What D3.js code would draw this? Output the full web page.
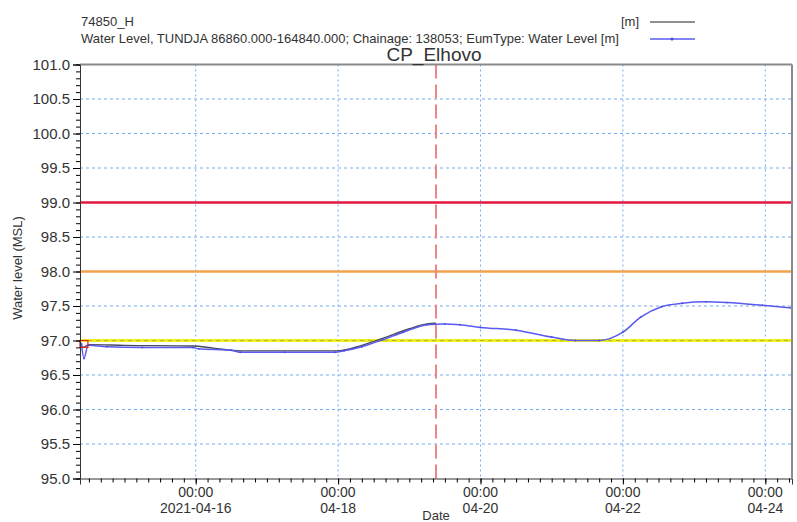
<!doctype html>
<html>
<head>
<meta charset="utf-8">
<style>
  body { margin: 0; background: #fff; }
  svg text { font-family: "Liberation Sans", Arial, sans-serif; fill: #333; }
</style>
</head>
<body>
<div id="vis"></div>
<script src="https://d3js.org/d3.v7.min.js"></script>
<script>
// observed water level (74850_H)
var obsTimes = ["2021-04-14 09:00", "2021-04-14 10:00", "2021-04-14 12:00", "2021-04-15 00:00", "2021-04-15 23:00",
    "2021-04-16 06:00", "2021-04-16 15:00", "2021-04-17 12:00", "2021-04-18 00:00", "2021-04-18 08:00",
    "2021-04-18 15:00", "2021-04-19 00:00", "2021-04-19 06:00", "2021-04-19 09:00"];
var obsValues = [96.99, 96.90, 96.94, 96.93, 96.92, 96.89, 96.85, 96.85, 96.85, 96.93, 97.03, 97.17, 97.24, 97.25];

// simulated water level (TUNDJA chainage 138053)
var simTimes = ["2021-04-14 09:30", "2021-04-14 10:20", "2021-04-14 11:45", "2021-04-14 18:00", "2021-04-15 06:00",
    "2021-04-15 23:00", "2021-04-16 01:00", "2021-04-16 12:00", "2021-04-16 15:00", "2021-04-17 06:00",
    "2021-04-17 23:00", "2021-04-18 02:00", "2021-04-18 08:00", "2021-04-18 15:00", "2021-04-18 22:00",
    "2021-04-19 06:00", "2021-04-19 12:00", "2021-04-19 17:00", "2021-04-20 00:00", "2021-04-20 12:00",
    "2021-04-21 00:00", "2021-04-21 08:00", "2021-04-21 16:00", "2021-04-22 00:00", "2021-04-22 06:00",
    "2021-04-22 13:00", "2021-04-22 20:00", "2021-04-23 04:00", "2021-04-23 11:00", "2021-04-23 23:00",
    "2021-04-24 09:00"];
var simValues = [96.95, 96.74, 96.93, 96.91, 96.90, 96.90, 96.88, 96.86, 96.83, 96.83, 96.83, 96.85, 96.91, 97.01, 97.12,
    97.23, 97.24, 97.23, 97.19, 97.15, 97.05, 97.00, 97.00, 97.12, 97.34, 97.49, 97.54, 97.56, 97.55, 97.51, 97.47];

// threshold levels
var levels = [99.0, 98.0, 97.0];
var levelColors = ["#e3173d", "#f2a14e", "#eef01e"];

var timeDomain = ["2021-04-14 09:00", "2021-04-24 09:00"];
var forecastStart = "2021-04-19 09:00";
var xTickTimes = ["2021-04-16 00:00", "2021-04-18 00:00", "2021-04-20 00:00", "2021-04-22 00:00", "2021-04-24 00:00"];
var xTickDates = ["2021-04-16", "04-18", "04-20", "04-22", "04-24"];
var yTicks = [95.0, 95.5, 96.0, 96.5, 97.0, 97.5, 98.0, 98.5, 99.0, 99.5, 100.0, 100.5, 101.0];
var startBox = { t0: "2021-04-14 09:00", t1: "2021-04-14 11:40", v0: 97.0, v1: 96.9 };

var parse = d3.timeParse("%Y-%m-%d %H:%M");
var W = 797, H = 522;
var pL = 80, pR = 792, pT = 64.5, pB = 478.5;

var svg = d3.select("#vis").append("svg").attr("width", W).attr("height", H);

var x = d3.scaleTime().domain(timeDomain.map(parse)).range([pL, pR]);
var y = d3.scaleLinear().domain([95, 101]).range([pB, pT]);

// grid
var gridColor = "#72aaf0";
svg.append("g").selectAll("line").data(yTicks.filter(function(v){ return v > 95 && v < 101 && levels.indexOf(v) < 0; }))
  .enter().append("line")
  .attr("x1", pL).attr("x2", pR)
  .attr("y1", function(d){ return y(d); }).attr("y2", function(d){ return y(d); })
  .attr("stroke", gridColor).attr("stroke-width", 1).attr("stroke-dasharray", "3,3");
svg.append("g").selectAll("line").data(xTickTimes.map(parse))
  .enter().append("line")
  .attr("x1", function(d){ return x(d); }).attr("x2", function(d){ return x(d); })
  .attr("y1", pT).attr("y2", pB)
  .attr("stroke", gridColor).attr("stroke-width", 1).attr("stroke-dasharray", "2,3");

// threshold lines
svg.append("g").selectAll("line").data(levels)
  .enter().append("line")
  .attr("x1", pL).attr("x2", pR)
  .attr("y1", function(d){ return y(d); }).attr("y2", function(d){ return y(d); })
  .attr("stroke", function(d, i){ return levelColors[i]; })
  .attr("stroke-width", function(d, i){ return i == 2 ? 3 : 2.5; });
svg.append("line")
  .attr("x1", pL).attr("x2", pR).attr("y1", y(97)).attr("y2", y(97))
  .attr("stroke", "#b9b82a").attr("stroke-width", 1).attr("stroke-dasharray", "4,4");

// forecast start
svg.append("line")
  .attr("x1", x(parse(forecastStart))).attr("x2", x(parse(forecastStart)))
  .attr("y1", pT).attr("y2", pB)
  .attr("stroke", "#f08585").attr("stroke-width", 2).attr("stroke-dasharray", "14,6");

// series
var obs = obsTimes.map(function(t, i){ return { t: parse(t), v: obsValues[i] }; });
var sim = simTimes.map(function(t, i){ return { t: parse(t), v: simValues[i] }; });
var line = d3.line().curve(d3.curveMonotoneX).x(function(d){ return x(d.t); }).y(function(d){ return y(d.v); });

svg.append("path").datum(obs).attr("d", line)
  .attr("fill", "none").attr("stroke", "#4a4a5a").attr("stroke-width", 1.4);
svg.append("path").datum(sim).attr("d", line)
  .attr("fill", "none").attr("stroke", "#5a5af0").attr("stroke-width", 1.5);
svg.append("g").selectAll("circle").data(sim).enter().append("circle")
  .attr("cx", function(d){ return x(d.t); }).attr("cy", function(d){ return y(d.v); })
  .attr("r", 0.9).attr("fill", "#4a4ae0");

svg.append("rect")
  .attr("x", x(parse(startBox.t0))).attr("y", y(startBox.v0))
  .attr("width", x(parse(startBox.t1)) - x(parse(startBox.t0)))
  .attr("height", y(startBox.v1) - y(startBox.v0))
  .attr("fill", "none").attr("stroke", "#e02020").attr("stroke-width", 1.2);

// frame
svg.append("line").attr("x1", pL).attr("x2", pR).attr("y1", pT).attr("y2", pT)
  .attr("stroke", "#8a8a8a").attr("stroke-width", 2);
svg.append("line").attr("x1", pR).attr("x2", pR).attr("y1", pT).attr("y2", pB)
  .attr("stroke", "#8a8a8a").attr("stroke-width", 2);

// y axis
var yAxis = d3.axisLeft(y).tickValues(yTicks).tickFormat(d3.format(".1f")).tickSize(7).tickPadding(3);
var gy = svg.append("g").attr("transform", "translate(" + pL + ",0)").call(yAxis);
gy.select(".domain").attr("stroke", "#333");
gy.selectAll("text").style("font-size", "15px").attr("fill", "#3a3a3a");
var yMinor = d3.range(95, 101.001, 0.1);
svg.append("g").attr("transform", "translate(" + pL + ",0)")
  .call(d3.axisLeft(y).tickValues(yMinor).tickSize(4).tickFormat(""))
  .select(".domain").remove();

// x axis
var xAxis = d3.axisBottom(x).tickValues(xTickTimes.map(parse)).tickSize(6).tickFormat("");
var gx = svg.append("g").attr("transform", "translate(0," + pB + ")").call(xAxis);
gx.select(".domain").attr("stroke", "#333");
var xMinor = d3.timeHour.every(4).range(x.domain()[0], x.domain()[1]);
svg.append("g").attr("transform", "translate(0," + pB + ")")
  .call(d3.axisBottom(x).tickValues(xMinor).tickSize(4).tickFormat(""))
  .select(".domain").remove();

var xl = svg.append("g").selectAll("g").data(xTickTimes).enter().append("g")
  .attr("transform", function(d){ return "translate(" + x(parse(d)) + ",0)"; });
xl.append("text").attr("y", 497).attr("text-anchor", "middle").style("font-size", "14px")
  .text(function(d){ return d3.timeFormat("%H:%M")(parse(d)); });
xl.append("text").attr("y", 513).attr("text-anchor", "middle").style("font-size", "14px")
  .text(function(d, i){ return xTickDates[i]; });

svg.append("text").attr("x", 436).attr("y", 520).attr("text-anchor", "middle")
  .style("font-size", "13px").text("Date");
svg.append("text").attr("transform", "translate(22,268) rotate(-90)").attr("text-anchor", "middle")
  .style("font-size", "13px").text("Water level (MSL)");

// title
svg.append("text").attr("x", 434).attr("y", 61).attr("text-anchor", "middle")
  .style("font-size", "19px").attr("fill", "#111").text("CP_Elhovo");

// legend
svg.append("text").attr("x", 81).attr("y", 26).style("font-size", "13px").text("74850_H");
svg.append("text").attr("x", 639).attr("y", 26).attr("text-anchor", "end").style("font-size", "13px").text("[m]");
svg.append("line").attr("x1", 650).attr("x2", 695).attr("y1", 22).attr("y2", 22).attr("stroke", "#222").attr("stroke-width", 1.2);
svg.append("text").attr("x", 81).attr("y", 43).style("font-size", "13px")
  .text("Water Level, TUNDJA 86860.000-164840.000; Chainage: 138053; EumType: Water Level [m]");
svg.append("line").attr("x1", 650).attr("x2", 695).attr("y1", 39).attr("y2", 39).attr("stroke", "#5a5af0").attr("stroke-width", 1.5);
svg.append("circle").attr("cx", 672).attr("cy", 39).attr("r", 1.5).attr("fill", "#4a4ae0");
</script>
</body>
</html>
